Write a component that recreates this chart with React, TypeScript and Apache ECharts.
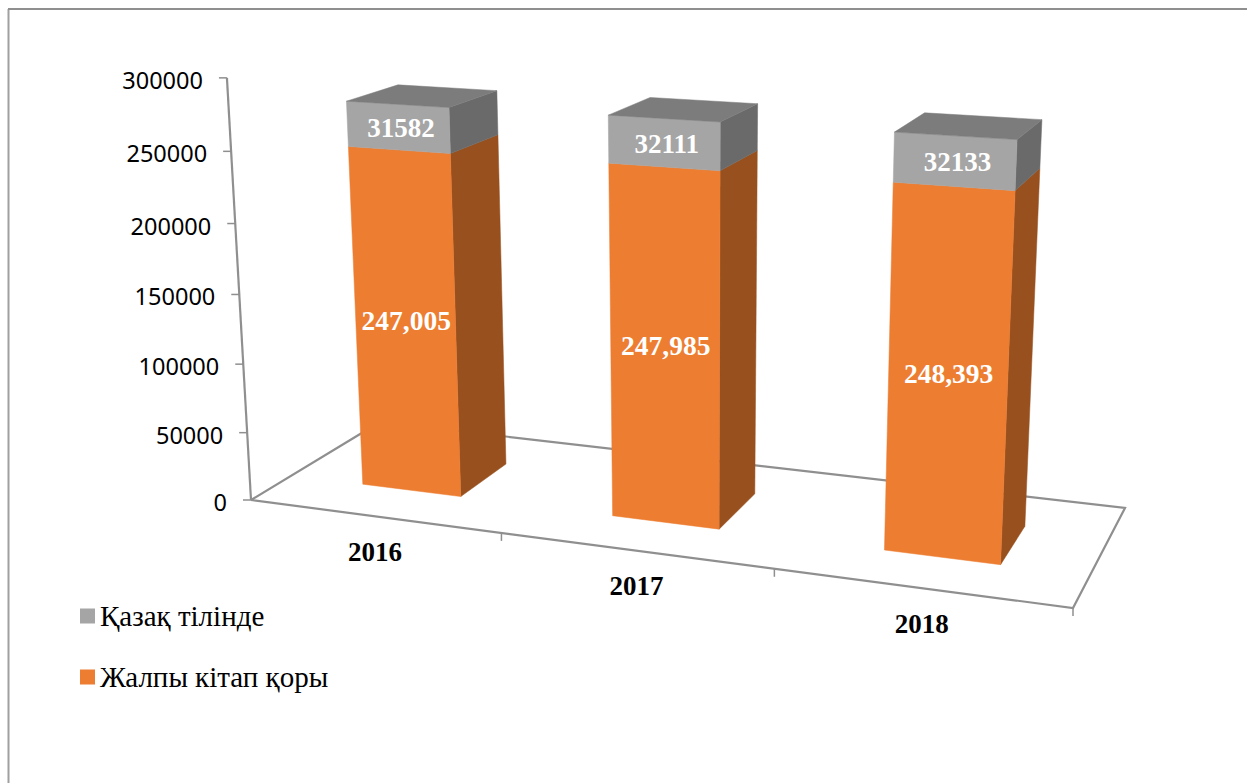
import React, { useEffect, useRef } from "react";
import * as echarts from "echarts";

const categories = ["2016", "2017", "2018"];
const totalBooks = [247005, 247985, 248393];
const kazakhBooks = [31582, 32111, 32133];
const valueTicks = [0, 50000, 100000, 150000, 200000, 250000, 300000];
const totalName = "Жалпы кітап қоры";
const kazakhName = "Қазақ тілінде";

const AXIS_MAX = 300000;
const SERIF = '"Liberation Serif", serif';
const AXIS_COLOR = "#8f8f8f";
const ORANGE = { front: "#ED7D31", side: "#98501E" };
const GREY = { front: "#A5A5A5", side: "#6A6A6A", top: "#7C7C7C" };

// Perspective camera of the 3D chart: floor corners and the vertical vanishing point.
const FLOOR = [[251, 500], [1073, 608], [1125, 508], [380, 422]];
const V_POINT = [698, 8339];
const V_WEIGHT = -0.0511;
const BAR_WIDTH = 0.134;
const DEPTH_FRONT = 0.295;
const DEPTH_BACK = 0.69;

function makeCamera() {
  const [[x0, y0], [x1, y1], [x2, y2], [x3, y3]] = FLOOR;
  const dx1 = x1 - x2, dx2 = x3 - x2, sx = x0 - x1 + x2 - x3;
  const dy1 = y1 - y2, dy2 = y3 - y2, sy = y0 - y1 + y2 - y3;
  const det = dx1 * dy2 - dx2 * dy1;
  const g = (sx * dy2 - dx2 * sy) / det;
  const h = (dx1 * sy - sx * dy1) / det;
  const a = x1 - x0 + g * x1, b = x3 - x0 + h * x3;
  const d = y1 - y0 + g * y1, e = y3 - y0 + h * y3;
  // u: along the categories, t: height as a share of the axis, w: depth
  return (u: number, t: number, w: number) => {
    const k = V_WEIGHT * t;
    const hx = a * u + b * w + x0 + k * V_POINT[0];
    const hy = d * u + e * w + y0 + k * V_POINT[1];
    const hw = g * u + h * w + 1 + k;
    return [hx / hw, hy / hw];
  };
}
const project = makeCamera();

// Normalised plot position of a data point, read through the chart's own scales.
function toPlot(params: any, api: any, cat: number, val: number) {
  const cs = params.coordSys;
  const p = api.coord([cat, val]);
  return { u: (p[0] - cs.x) / cs.width, t: (cs.y + cs.height - p[1]) / cs.height };
}

function poly(points: number[][], fill: string) {
  return { type: "polygon", shape: { points }, style: { fill, stroke: fill, lineWidth: 0.5 } };
}
function line(points: number[][], width = 2.2) {
  return { type: "polyline", shape: { points }, style: { fill: "none", stroke: AXIS_COLOR, lineWidth: width } };
}
function text(x: number, y: number, value: string, font: string, fill: string, align = "center") {
  return { type: "text", x, y, style: { text: value, font, fill, align, verticalAlign: "middle" } };
}

function barItem(colors: any, labelFor: (v: number) => string, withTop: boolean, dx: number, dy: number, size: number) {
  return (params: any, api: any) => {
    const cat = api.value(0);
    const { u, t: top } = toPlot(params, api, cat, api.value(1));
    const { t: base } = toPlot(params, api, cat, api.value(2));
    const l = u - BAR_WIDTH / 2, r = u + BAR_WIDTH / 2;
    const fbl = project(l, base, DEPTH_FRONT), fbr = project(r, base, DEPTH_FRONT);
    const ftl = project(l, top, DEPTH_FRONT), ftr = project(r, top, DEPTH_FRONT);
    const bbr = project(r, base, DEPTH_BACK), btr = project(r, top, DEPTH_BACK), btl = project(l, top, DEPTH_BACK);
    const c = project(u, (top + base) / 2, DEPTH_FRONT);
    const children: any[] = [poly([fbr, bbr, btr, ftr], colors.side), poly([fbl, fbr, ftr, ftl], colors.front)];
    if (withTop) children.push(poly([ftl, ftr, btr, btl], colors.top));
    children.push(text(c[0] + dx, c[1] + dy, labelFor(api.value(3)), `bold ${size}px ${SERIF}`, "#ffffff"));
    return { type: "group", children };
  };
}

function floorItem() {
  const corner = (u: number, w: number) => project(u, 0, w);
  return {
    type: "group",
    children: [
      line([corner(0, 0), corner(1, 0), corner(1, 1), corner(0, 1), corner(0, 0)]),
      line([project(0, 0, 0), project(0, 1, 0)]),
    ],
  };
}

function valueTickItem(params: any, api: any) {
  const { t } = toPlot(params, api, 0, api.value(1));
  const p = project(0, t, 0);
  return {
    type: "group",
    children: [
      line([[p[0] - 8, p[1]], p], 1.5),
      text(p[0] - 24, p[1] + 2, String(api.value(1)), '23.5px "Noto Sans", sans-serif', "#000000", "right"),
    ],
  };
}

function categoryTickItem(params: any, api: any) {
  const cat = api.value(0);
  const { u } = toPlot(params, api, cat, 0);
  const band = api.size([1, 0])[0] / params.coordSys.width;
  const tick = project(u + band / 2, 0, 0);
  const mid = project(u, 0, 0);
  return {
    type: "group",
    children: [
      line([tick, [tick[0], tick[1] + 8]], 1.5),
      text(mid[0] + 1.5, mid[1] + 36, categories[cat], `bold 27px ${SERIF}`, "#000000"),
    ],
  };
}

export default function App() {
  const ref = useRef<HTMLDivElement>(null);
  useEffect(() => {
    const chart = echarts.init(ref.current!, undefined, { renderer: "svg" });
    chart.setOption({
      animation: false,
      backgroundColor: "#ffffff",
      grid: { left: 250, top: 78, width: 825, height: 422, show: false },
      xAxis: { type: "category", data: categories, show: false },
      yAxis: { type: "value", min: 0, max: AXIS_MAX, interval: 50000, show: false },
      legend: {
        orient: "vertical",
        left: 75,
        top: 596,
        icon: "rect",
        itemWidth: 15,
        itemHeight: 15,
        itemGap: 31,
        data: [kazakhName, totalName],
        textStyle: { fontFamily: SERIF, fontSize: 29, color: "#000000", lineHeight: 30 },
      },
      graphic: [
        { type: "line", shape: { x1: 8.5, y1: 9, x2: 8.5, y2: 783 }, style: { stroke: "#a0a0a0", lineWidth: 2 } },
        { type: "line", shape: { x1: 8, y1: 9, x2: 1247, y2: 9 }, style: { stroke: AXIS_COLOR, lineWidth: 2 } },
      ],
      series: [
        { type: "custom", name: "floor", clip: false, silent: true, z: 1, renderItem: floorItem, data: [[0, 0]], encode: { x: 0, y: 1 } },
        { type: "custom", name: "valueAxis", clip: false, silent: true, z: 1, renderItem: valueTickItem, data: valueTicks.map((v) => [0, v]), encode: { x: 0, y: 1 } },
        { type: "custom", name: "categoryAxis", clip: false, silent: true, z: 1, renderItem: categoryTickItem, data: categories.map((_, i) => [i, 0]), encode: { x: 0, y: 1 } },
        {
          type: "custom",
          name: totalName,
          clip: false,
          z: 2,
          itemStyle: { color: ORANGE.front },
          renderItem: barItem(ORANGE, (v) => v.toLocaleString("en-US"), false, 1, -3, 27.5),
          data: totalBooks.map((v, i) => [i, v, 0, v]),
          encode: { x: 0, y: 1 },
        },
        {
          type: "custom",
          name: kazakhName,
          clip: false,
          z: 3,
          itemStyle: { color: GREY.front },
          renderItem: barItem(GREY, (v) => String(v), true, 3, 1, 27),
          data: kazakhBooks.map((v, i) => [i, totalBooks[i] + v, totalBooks[i], v]),
          encode: { x: 0, y: 1 },
        },
      ],
    });
    return () => chart.dispose();
  }, []);
  return <div ref={ref} style={{ position: "fixed", left: 0, top: 0, width: 1247, height: 783 }} />;
}
